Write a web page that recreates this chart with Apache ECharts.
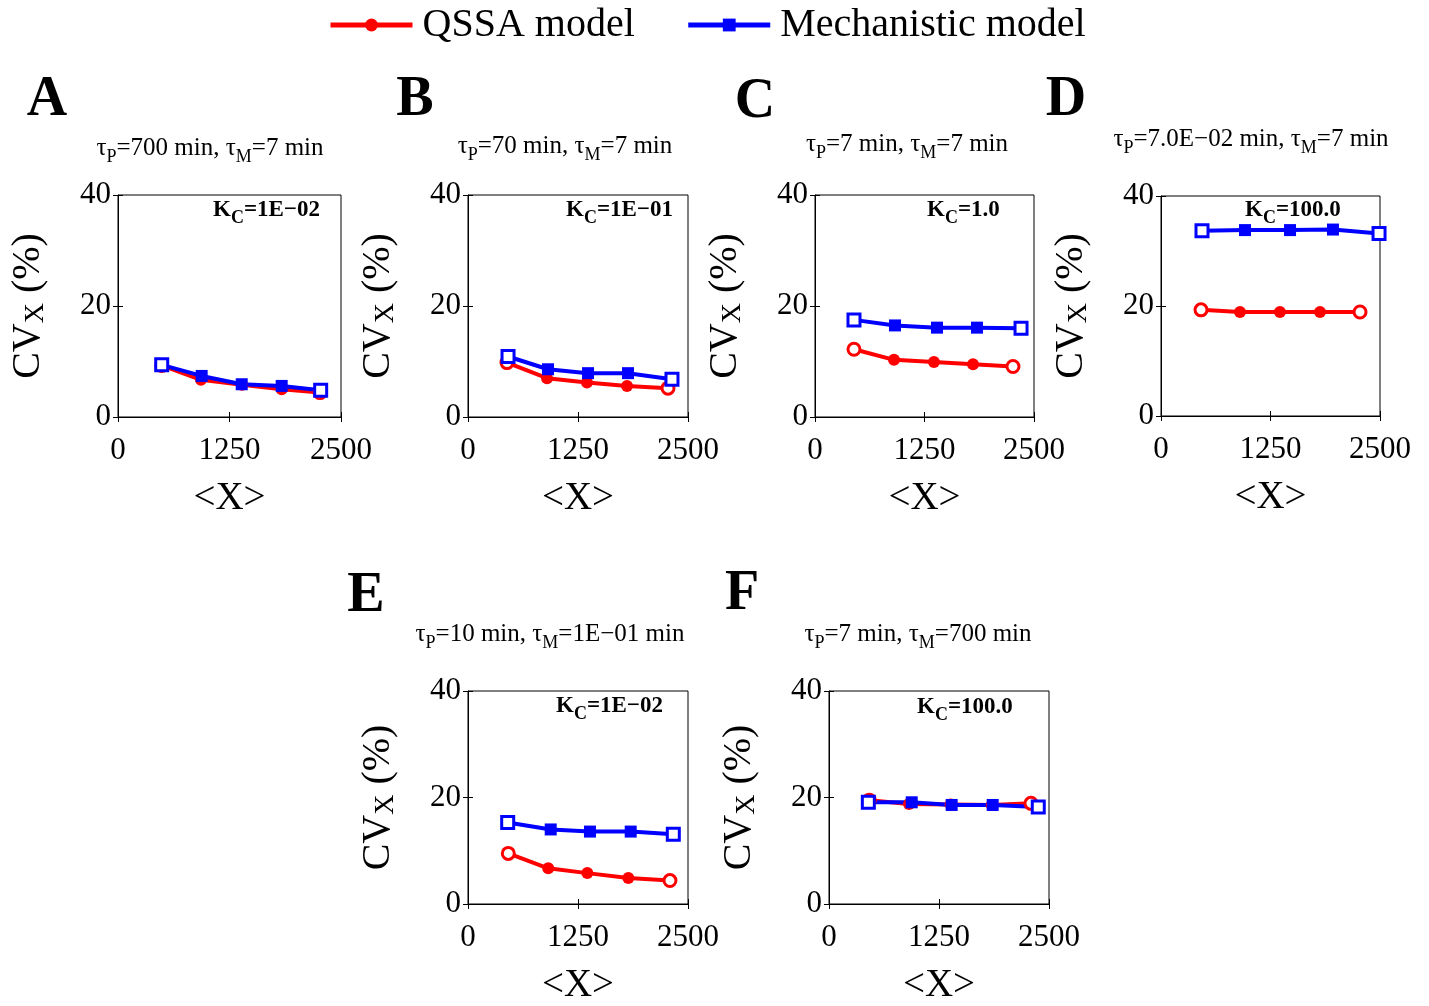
<!DOCTYPE html>
<html>
<head>
<meta charset="utf-8">
<script src="https://cdn.jsdelivr.net/npm/echarts@6/dist/echarts.min.js"></script>
<style>
  html, body { margin: 0; padding: 0; background: #fff; }
  #main { width: 1429px; height: 1006px; }
</style>
</head>
<body>
<div id="main"></div>
<script>
// 数据：每个子图 QSSA / Mechanistic 两条曲线
const seriesNames = ['QSSA model', 'Mechanistic model']
const xTicks = [0, 1250, 2500]
const yTicks = [0, 20, 40]
const panelLetters = ['A', 'B', 'C', 'D', 'E', 'F']
const tauP = ['700', '70', '7', '7.0E\u221202', '10', '7']
const tauM = ['7', '7', '7', '7', '1E\u221201', '700']
const kcLabels = ['1E\u221202', '1E\u221201', '1.0', '100.0', '1E\u221202', '100.0']

const qssaX = [
  [490, 930, 1390, 1835, 2265],
  [443, 898, 1352, 1807, 2273],
  [445, 902, 1358, 1804, 2260],
  [457, 902, 1358, 1815, 2272],
  [458, 912, 1356, 1822, 2295],
  [458, 909, 1383, 1849, 2295]
]
const qssaY = [
  [9.3, 6.7, 5.8, 5.0, 4.4],
  [9.8, 7.0, 6.2, 5.6, 5.2],
  [12.2, 10.3, 9.9, 9.5, 9.1],
  [19.3, 18.9, 18.9, 18.9, 18.9],
  [9.5, 6.7, 5.8, 4.9, 4.4],
  [19.5, 18.8, 18.7, 18.6, 18.9]
]
const mechX = [
  [490, 938, 1387, 1835, 2272],
  [455, 909, 1364, 1818, 2318],
  [445, 913, 1393, 1849, 2352],
  [468, 959, 1473, 1963, 2489],
  [451, 940, 1386, 1849, 2333],
  [447, 940, 1394, 1860, 2378]
]
const mechY = [
  [9.4, 7.4, 5.9, 5.6, 4.8],
  [10.9, 8.6, 7.9, 7.9, 6.8],
  [17.5, 16.5, 16.1, 16.1, 16.0],
  [33.7, 33.8, 33.8, 33.9, 33.2],
  [15.3, 14.0, 13.6, 13.6, 13.1],
  [19.1, 19.1, 18.6, 18.6, 18.2]
]

// 布局（像素）
const grids = [
  { left: 118, top: 195, width: 223, height: 222 },
  { left: 468, top: 195, width: 220, height: 222 },
  { left: 815, top: 195, width: 219, height: 222 },
  { left: 1161, top: 196, width: 219, height: 220 },
  { left: 468, top: 691, width: 220, height: 218 },
  { left: 829, top: 691, width: 220, height: 218 }
]
const letterPos = [[47, 101], [415, 101], [755, 103], [1066, 101], [366, 597], [742, 595]]
const titlePos = [[210, 149], [565, 147], [907, 145], [1251, 140], [550, 635], [918, 635]]
const kcPos = [[213, 211], [566, 211], [927, 211], [1245, 211], [556, 707], [917, 708]]

const FONT = 'Liberation Serif'
const RED = '#ff0000'
const BLUE = '#0000ff'

const chart = echarts.init(document.getElementById('main'))

const subRich = {
  t: { fontFamily: FONT, fontSize: 25, color: '#000', verticalAlign: 'top' },
  s: { fontFamily: FONT, fontSize: 18, color: '#000', verticalAlign: 'top', padding: [12, 0, 0, 0] }
}
const kcRich = {
  b: { fontFamily: FONT, fontSize: 23, fontWeight: 'bold', color: '#000', verticalAlign: 'top' },
  bs: { fontFamily: FONT, fontSize: 18, fontWeight: 'bold', color: '#000', verticalAlign: 'top', padding: [10, 0, 0, 0] }
}

function buildPoints(xs, ys, color) {
  return xs.map((x, i) => {
    const hollow = i === 0 || i === xs.length - 1
    return {
      value: [x, ys[i]],
      itemStyle: hollow ? { color: '#fff', borderColor: color, borderWidth: 3 } : { color: color }
    }
  })
}

const tickStyle = { show: true, inside: true, length: 5, lineStyle: { color: '#000' } }
const xAxes = [], yAxes = [], series = [], graphics = []
grids.forEach((g, i) => {
  xAxes.push({
    gridIndex: i, type: 'value', min: xTicks[0], max: xTicks[2], interval: xTicks[1],
    axisLine: { show: true, lineStyle: { color: '#000', width: 1 } },
    axisTick: tickStyle,
    splitLine: { show: false },
    axisLabel: { color: '#000', fontFamily: FONT, fontSize: 31, margin: 18, formatter: v => String(v) },
    name: '<X>', nameLocation: 'middle', nameGap: 62,
    nameTextStyle: { color: '#000', fontFamily: FONT, fontSize: 39 }
  })
  yAxes.push({
    gridIndex: i, type: 'value', min: yTicks[0], max: yTicks[2], interval: yTicks[1],
    axisLine: { show: true, lineStyle: { color: '#000', width: 1 } },
    axisTick: tickStyle,
    splitLine: { show: false },
    axisLabel: { color: '#000', fontFamily: FONT, fontSize: 31, margin: 7, formatter: v => String(v) },
    name: 'CV{sx|X} (%)', nameLocation: 'middle', nameGap: 68,
    nameTextStyle: {
      color: '#000', fontFamily: FONT, fontSize: 40,
      rich: {
        sx: { fontFamily: FONT, fontSize: 28, color: '#000', verticalAlign: 'top', padding: [16, 0, 0, 0] }
      }
    }
  })
  series.push({
    name: seriesNames[0], type: 'line', xAxisIndex: i, yAxisIndex: i,
    data: buildPoints(qssaX[i], qssaY[i], RED),
    symbol: 'circle', symbolSize: 12,
    lineStyle: { color: RED, width: 4 }, itemStyle: { color: RED },
    animation: false
  })
  series.push({
    name: seriesNames[1], type: 'line', xAxisIndex: i, yAxisIndex: i,
    data: buildPoints(mechX[i], mechY[i], BLUE),
    symbol: 'rect', symbolSize: 12,
    lineStyle: { color: BLUE, width: 4 }, itemStyle: { color: BLUE },
    animation: false
  })
  graphics.push({
    type: 'text', x: letterPos[i][0], y: letterPos[i][1],
    style: { text: panelLetters[i], font: 'bold 56px "Liberation Serif"', fill: '#000', textAlign: 'center', textVerticalAlign: 'middle' }
  })
  graphics.push({
    type: 'text', x: titlePos[i][0], y: titlePos[i][1] - 13,
    style: {
      text: '{t|\u03c4}{s|P}{t|=' + tauP[i] + ' min, \u03c4}{s|M}{t|=' + tauM[i] + ' min}',
      rich: subRich, textAlign: 'center', textVerticalAlign: 'top'
    }
  })
  graphics.push({
    type: 'text', x: kcPos[i][0], y: kcPos[i][1] - 12,
    style: {
      text: '{b|K}{bs|C}{b|=' + kcLabels[i] + '}',
      rich: kcRich, textAlign: 'left', textVerticalAlign: 'top'
    }
  })
})

// 顶部/右侧镜像刻度
grids.forEach((g, i) => {
  xAxes.push({
    gridIndex: i, type: 'value', position: 'top', min: xTicks[0], max: xTicks[2], interval: xTicks[1],
    axisLine: { show: false }, axisTick: tickStyle, axisLabel: { show: false }, splitLine: { show: false }
  })
  yAxes.push({
    gridIndex: i, type: 'value', position: 'right', min: yTicks[0], max: yTicks[2], interval: yTicks[1],
    axisLine: { show: false }, axisTick: tickStyle, axisLabel: { show: false }, splitLine: { show: false }
  })
})

chart.setOption({
  animation: false,
  backgroundColor: '#fff',
  legend: {
    data: seriesNames,
    top: 5, left: 328, padding: 0,
    itemWidth: 82, itemHeight: 16, itemGap: 51,
    lineStyle: { width: 5 },
    textStyle: { color: '#000', fontFamily: FONT, fontSize: 40, padding: [0, 0, 0, 5] }
  },
  grid: grids.map(g => ({ ...g, show: true, borderColor: '#000', borderWidth: 1, containLabel: false })),
  xAxis: xAxes,
  yAxis: yAxes,
  series: series,
  graphic: graphics
})
</script>
</body>
</html>
